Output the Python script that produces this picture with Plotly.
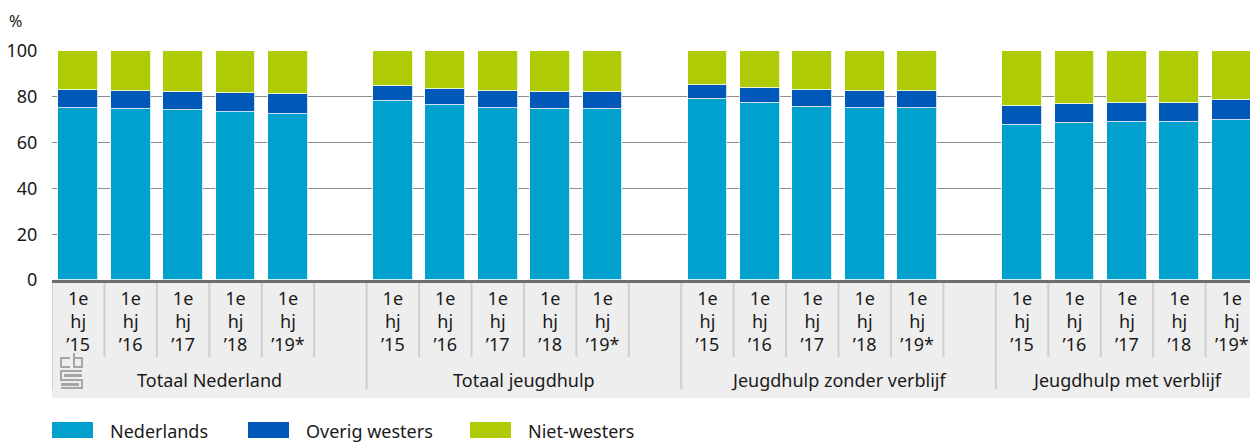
import plotly.graph_objects as go

groepen = ["Totaal Nederland", "Totaal jeugdhulp", "Jeugdhulp zonder verblijf", "Jeugdhulp met verblijf"]
perioden = ["1e<br>hj<br>’15", "1e<br>hj<br>’16", "1e<br>hj<br>’17", "1e<br>hj<br>’18", "1e<br>hj<br>’19*"]

# per groep 5 halfjaren, in volgorde van groepen
nederlands = [75.2, 74.5, 74.1, 73.2, 72.7,
              78.0, 76.3, 75.2, 74.8, 74.8,
              78.9, 77.1, 75.5, 75.2, 75.2,
              67.8, 68.4, 68.8, 68.8, 69.7]
overig_westers = [7.7, 8.0, 8.1, 8.6, 8.5,
                  6.9, 6.9, 7.3, 7.4, 7.4,
                  6.4, 6.8, 7.3, 7.5, 7.3,
                  8.4, 8.6, 8.6, 8.6, 8.7]
niet_westers = [17.1, 17.5, 17.8, 18.2, 18.8,
                15.1, 16.8, 17.5, 17.8, 17.8,
                14.7, 16.1, 17.2, 17.3, 17.5,
                23.8, 23.0, 22.6, 22.6, 21.6]

reeksen = ["Nederlands", "Overig westers", "Niet-westers"]
kleuren = ["#00a1cd", "#0058b8", "#afcb05"]

FONT = "Noto Sans"
TXT = "#1a1a1a"

# de pagina heeft 8px body-marge; figuur daarom 8px kleiner
OFF = 8
W, H = 1258 - OFF, 443 - OFF
# plotgebied in schermpixels
PL, PR, PT, PB = 52, 1258, 51, 280
PW, PH = PR - PL, PB - PT


def px_x(px):
    return (px - PL) / PW


def px_y(py):
    return (PB - py) / PH


def pad(punten):
    # pixelpunten -> svg-pad in paper-coordinaten
    return "M " + " L ".join(f"{px_x(x):.5f},{px_y(y):.5f}" for x, y in punten)


# posities: 5 staven per groep + 1 lege plek tussen groepen
slot = len(perioden) + 1
xpos = [g * slot + i for g in range(len(groepen)) for i in range(len(perioden))]
xmax = xpos[-1] + 0.5

fig = go.Figure()
for naam, kleur, waarden in zip(reeksen, kleuren, [nederlands, overig_westers, niet_westers]):
    fig.add_trace(go.Bar(x=xpos, y=waarden, name=naam, width=0.76,
                         marker=dict(color=kleur, line=dict(color="rgba(255,255,255,0.8)", width=1)),
                         showlegend=False))

# grijze achtergrond van de categorie-as
fig.add_shape(type="rect", xref="x", yref="paper", x0=-0.5, x1=xmax, y0=px_y(281), y1=px_y(398),
              fillcolor="#eeeeee", line_width=0, layer="below")

# scheidingslijnen tussen de halfjaren en de groepen
for g in range(len(groepen)):
    start = g * slot
    for i in range(1, slot):
        if start + i - 0.5 > xmax:
            break
        fig.add_shape(type="line", xref="x", yref="paper", x0=start + i - 0.5, x1=start + i - 0.5,
                      y0=px_y(283), y1=px_y(357), line=dict(color="#cfcfcf", width=2))
    fig.add_shape(type="line", xref="x", yref="paper", x0=start - 0.5, x1=start - 0.5,
                  y0=px_y(283), y1=px_y(389), line=dict(color="#cfcfcf", width=2))
    fig.add_annotation(x=start + (min(slot, xmax - start + 0.5) - 1) / 2, xref="x", y=px_y(380), yref="paper",
                       text=groepen[g], showarrow=False, yanchor="middle",
                       font=dict(family=FONT, size=18, color=TXT))

# cbs-logootje linksonder
for punten in ([(70, 358), (61, 358), (61, 367), (70, 367)],
               [(74, 353), (74, 367), (82, 367), (82, 358), (74, 358)],
               [(82, 371), (61, 371), (61, 380), (82, 380), (82, 388), (61, 388)],
               [(82, 375), (65, 375), (65, 376), (82, 376)],
               [(61, 384), (78, 384), (78, 385), (61, 385)]):
    fig.add_shape(type="path", xref="paper", yref="paper", path=pad(punten),
                  line=dict(color="#a6a6a6", width=2))

# legenda
lx = [52, 248, 470]
for naam, kleur, x0 in zip(reeksen, kleuren, lx):
    fig.add_shape(type="rect", xref="paper", yref="paper",
                  x0=px_x(x0), x1=px_x(x0 + 41), y0=px_y(438), y1=px_y(422),
                  fillcolor=kleur, line_width=0)
    fig.add_annotation(x=px_x(x0 + 56), xref="paper", y=px_y(431), yref="paper",
                       text=naam, showarrow=False, xanchor="left", yanchor="middle",
                       font=dict(family=FONT, size=18, color=TXT))

fig.add_annotation(x=px_x(8), xref="paper", y=px_y(9), yref="paper", text="%",
                   showarrow=False, xanchor="left", yanchor="top", borderpad=0,
                   font=dict(family=FONT, size=16, color=TXT))

fig.update_layout(
    width=W, height=H,
    margin=dict(l=PL - OFF, r=1258 - PR, t=PT - OFF, b=443 - PB, autoexpand=False),
    barmode="stack", bargap=0,
    plot_bgcolor="white", paper_bgcolor="white",
    font=dict(family=FONT, size=18, color=TXT),
    xaxis=dict(range=[-0.5, xmax], tickvals=xpos, ticktext=perioden * len(groepen),
               showgrid=False, showline=True, linecolor="#6e6e6e", linewidth=3,
               ticks="", tickfont=dict(family=FONT, size=18, color=TXT),
               automargin=False, fixedrange=True),
    yaxis=dict(range=[0, 100], dtick=20, showgrid=True, gridcolor="#8c8c8c", gridwidth=1,
               zeroline=False, ticks="outside", ticklen=10, tickcolor="white",
               tickfont=dict(family=FONT, size=18, color=TXT),
               automargin=False, fixedrange=True),
)

fig.write_html("out.html")
